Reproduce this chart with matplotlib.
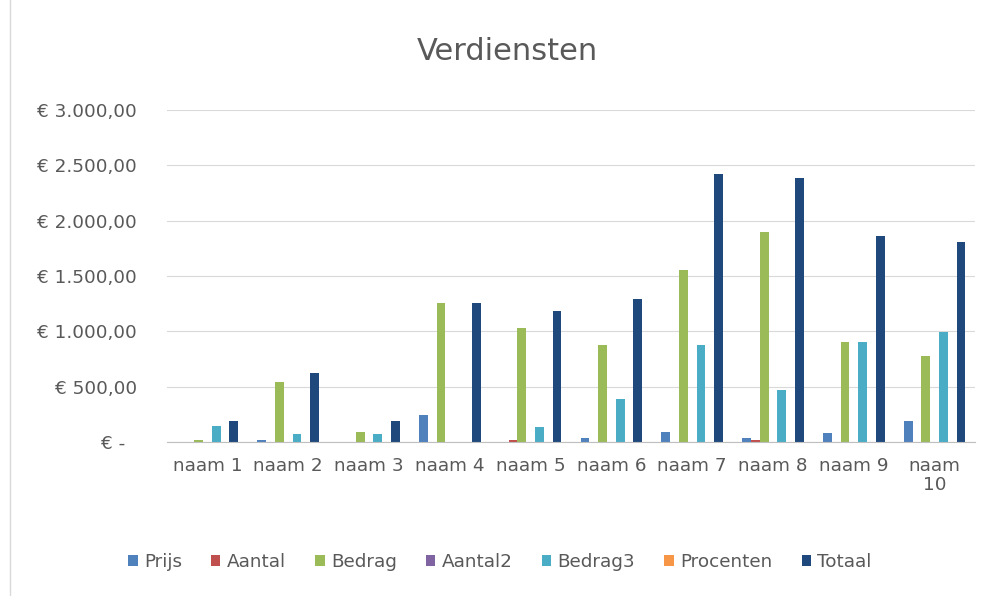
import matplotlib
matplotlib.use("Agg")
import matplotlib.pyplot as plt
import numpy as np
from matplotlib.patches import Patch
from matplotlib.lines import Line2D

categories = ["naam 1", "naam 2", "naam 3", "naam 4", "naam 5",
              "naam 6", "naam 7", "naam 8", "naam 9", "naam\n10"]
series_names = ["Prijs", "Aantal", "Bedrag", "Aantal2", "Bedrag3", "Procenten", "Totaal"]
prijs = [0, 20, 0, 241, 0, 40, 93, 40, 78, 187]
aantal = [0, 0, 0, 0, 20, 0, 0, 15, 0, 0]
bedrag = [15, 540, 93, 1256, 1030, 876, 1554, 1898, 906, 780]
aantal2 = [0, 0, 0, 0, 0, 0, 0, 0, 0, 0]
bedrag3 = [147, 75, 75, 0, 132, 391, 876, 467, 906, 994]
procenten = [0, 0, 0, 0, 0, 0, 0, 0, 0, 0]
totaal = [190, 620, 190, 1256, 1184, 1292, 2422, 2385, 1861, 1807]
yticks = [0, 500, 1000, 1500, 2000, 2500, 3000]
ytick_labels = ["€ -  ", "€ 500,00", "€ 1.000,00", "€ 1.500,00",
                "€ 2.000,00", "€ 2.500,00", "€ 3.000,00"]

colors = ["#4F81BD", "#C0504D", "#9BBB59", "#8064A2", "#4BACC6", "#F79646", "#1F497D"]
data = [prijs, aantal, bedrag, aantal2, bedrag3, procenten, totaal]

plt.rcParams['font.family'] = ['DejaVu Sans']
txt = "#595959"

fig = plt.figure(figsize=(9.94, 5.96), dpi=100)
ax = fig.add_axes([167/994, 154/596, (975-167)/994, 332/596])

n = len(series_names)
w = 1.0 / (n + 2.19)
x = np.arange(len(categories))
for i, (vals, c) in enumerate(zip(data, colors)):
    ax.bar(x + (i - (n - 1) / 2) * w, vals, width=w, color=c, zorder=3)

ax.set_xlim(-0.5, len(categories) - 0.5)
ax.set_ylim(0, 3000)
ax.set_yticks(yticks)
ax.set_yticklabels(ytick_labels, fontsize=13.2, color=txt)
ax.set_xticks(x)
ax.set_xticklabels(categories, fontsize=13.2, color=txt, linespacing=1.05)
ax.tick_params(axis='y', length=0, pad=21.6)
ax.tick_params(axis='x', length=0, pad=11)
ax.grid(axis='y', color="#D9D9D9", linewidth=0.8, zorder=0)
for s in ["top", "right", "left"]:
    ax.spines[s].set_visible(False)
ax.spines["bottom"].set_color("#BFBFBF")
ax.spines["bottom"].set_zorder(4)

fig.text(507/994, 1 - 52/596, "Verdiensten", ha="center", va="center",
         fontsize=22, color=txt)

handles = [Patch(facecolor=c, edgecolor='none') for c in colors]
fig.legend(handles, series_names, loc="center", bbox_to_anchor=(500/994, 1 - 562/596),
           ncol=n, frameon=False, fontsize=13.2, labelcolor=txt,
           handlelength=0.5, handleheight=0.5, handletextpad=0.35, columnspacing=1.6)

fig.add_artist(Line2D([10/994, 10/994], [0, 1], color="#D9D9D9", linewidth=1))

fig.savefig("out.png", dpi=100)
